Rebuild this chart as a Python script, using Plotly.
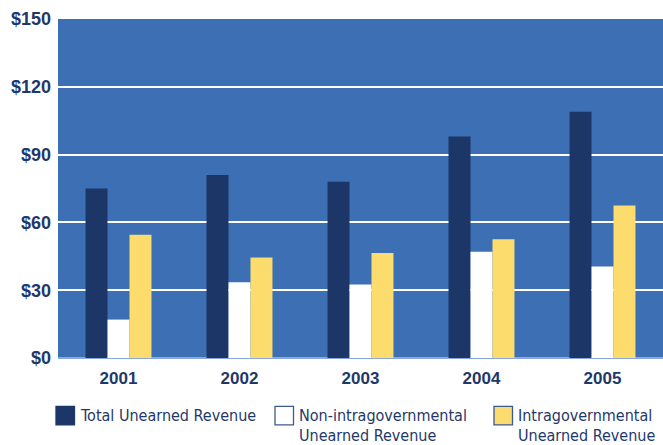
import plotly.graph_objects as go

years = ["2001", "2002", "2003", "2004", "2005"]
total_unearned = [75, 81, 78, 98, 109]
non_intragov = [17, 33.5, 32.5, 47, 40.5]
intragov = [54.5, 44.5, 46.5, 52.5, 67.5]
series_names = ["Total Unearned Revenue", "Non-intragovernmental Unearned Revenue",
                "Intragovernmental Unearned Revenue"]
y_ticks = [0, 30, 60, 90, 120, 150]
y_tick_labels = ["$0", "$30", "$60", "$90", "$120", "$150"]

NAVY = "#1D3668"
WHITE = "#FFFFFF"
YELLOW = "#FDDC6E"
BG = "#3D6FB4"
TEXT = "#1F386A"

W, H = 663, 445
L, R, T, B = 58, 0, 19, 86.5
PW, PH = W - L - R, H - T - B

def px_x(x):
    return (x - L) / PW

def px_y(y):
    return (H - B - y) / PH

fig = go.Figure()
for vals, name, col in zip([total_unearned, non_intragov, intragov], series_names,
                           [NAVY, WHITE, YELLOW]):
    fig.add_trace(go.Bar(x=years, y=vals, name=name, marker=dict(color=col, line=dict(width=0)),
                         showlegend=False))

bold = "Liberation Sans, Arial, sans-serif"
fig.update_layout(
    width=W, height=H,
    margin=dict(l=L, r=R, t=T, b=B, pad=0),
    paper_bgcolor="white",
    plot_bgcolor=BG,
    barmode="group",
    bargap=0.455,
    bargroupgap=0,
    font=dict(family=bold, color=TEXT),
    xaxis=dict(showgrid=False, zeroline=False, showline=False, ticks="",
               tickfont=dict(size=17, family=bold, weight="bold", color=TEXT),
               ticklabelstandoff=8),
    yaxis=dict(range=[0, 150], tickvals=y_ticks, ticktext=y_tick_labels,
               showgrid=True, gridcolor="white", gridwidth=1.5,
               zeroline=True, zerolinecolor="#8AA8DC", zerolinewidth=1.5,
               showline=False, ticks="", ticklabelstandoff=6,
               tickfont=dict(size=18, family=bold, weight="bold", color=TEXT)),
)

# custom legend
legend_items = [
    (56, NAVY, ["Total Unearned Revenue"]),
    (275, WHITE, ["Non-intragovernmental", "Unearned Revenue"]),
    (494, YELLOW, ["Intragovernmental", "Unearned Revenue"]),
]
narrow = "DejaVu Sans Condensed, Liberation Sans Narrow, sans-serif"
for x0, col, lines in legend_items:
    fig.add_shape(type="rect", xref="paper", yref="paper",
                  x0=px_x(x0), x1=px_x(x0 + 18.5), y0=px_y(407), y1=px_y(425.5),
                  fillcolor=col, line=dict(color="#3B5A8F" if col != NAVY else NAVY, width=1.3))
    for i, txt in enumerate(lines):
        fig.add_annotation(xref="paper", yref="paper", x=px_x(x0 + 21.5), y=px_y(416 + 20 * i),
                           xanchor="left", yanchor="middle", showarrow=False, text=txt,
                           font=dict(size=16, family=narrow, color=TEXT))

fig.write_html("out.html", config={"displayModeBar": False},
               post_script="document.body.style.margin='0';document.body.style.overflow='hidden';")
